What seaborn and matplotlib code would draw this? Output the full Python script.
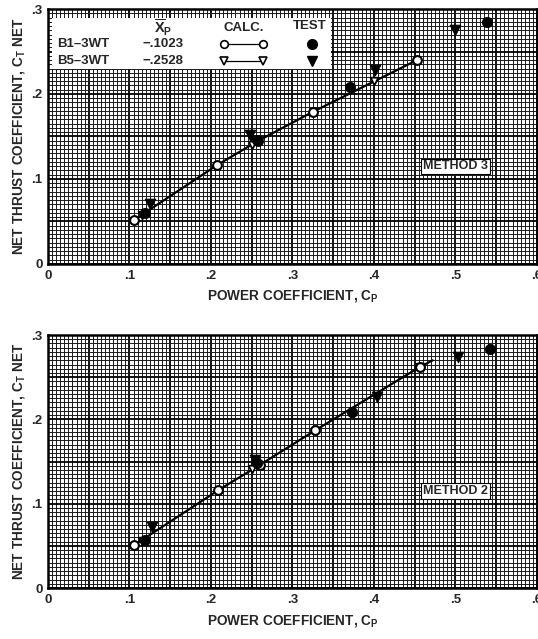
import numpy as np
import pandas as pd
import matplotlib
matplotlib.use("Agg")
import matplotlib.pyplot as plt
import seaborn as sns
from matplotlib.ticker import MultipleLocator, FuncFormatter
from matplotlib.patches import Rectangle
from matplotlib.lines import Line2D

# --- data ---
# METHOD 3 (top)
m3_calc_b1_cp = [0.106, 0.207, 0.258, 0.325, 0.453]
m3_calc_b1_ct = [0.052, 0.116, 0.145, 0.179, 0.240]
m3_calc_b5_cp = [0.115, 0.250, 0.400]
m3_calc_b5_ct = [0.058, 0.140, 0.215]
m3_test_b1_cp = [0.119, 0.257, 0.370, 0.539]
m3_test_b1_ct = [0.060, 0.146, 0.208, 0.285]
m3_test_b5_cp = [0.125, 0.248, 0.401, 0.499]
m3_test_b5_ct = [0.071, 0.152, 0.228, 0.275]

# METHOD 2 (bottom)
m2_calc_b1_cp = [0.106, 0.209, 0.260, 0.328, 0.456, 0.472]
m2_calc_b1_ct = [0.051, 0.116, 0.146, 0.187, 0.262, 0.270]
m2_calc_b5_cp = [0.115, 0.250, 0.456]
m2_calc_b5_ct = [0.056, 0.141, 0.262]
m2_test_b1_cp = [0.119, 0.256, 0.373, 0.542]
m2_test_b1_ct = [0.057, 0.148, 0.209, 0.283]
m2_test_b5_cp = [0.128, 0.254, 0.404, 0.503]
m2_test_b5_ct = [0.072, 0.152, 0.227, 0.274]

configs = ["B1-3WT", "B5-3WT"]
xp_values = ["\u2212.1023", "\u2212.2528"]

sns.set_style("white")
plt.rcParams["font.family"] = ["Liberation Sans", "DejaVu Sans"]
plt.rcParams["font.weight"] = "bold"
plt.rcParams["mathtext.fontset"] = "custom"
plt.rcParams["mathtext.rm"] = "Liberation Sans:bold"
plt.rcParams["mathtext.it"] = "Liberation Sans:bold"
plt.rcParams["mathtext.default"] = "rm"

fig = plt.figure(figsize=(5.38, 6.39), dpi=100)
ax_top = fig.add_axes([0.0892, 0.5869, 0.9089, 0.3990])
ax_bot = fig.add_axes([0.0892, 0.0798, 0.9089, 0.3959])


def tick_fmt(v, pos):
    if abs(v) < 1e-9:
        return "0"
    if abs(round(v * 10) - v * 10) > 1e-6:
        return ""
    return ("%.1f" % v).lstrip("0")


def style_axes(ax, label):
    ax.set_xlim(0, 0.6)
    ax.set_ylim(0, 0.3)
    for axis in (ax.xaxis, ax.yaxis):
        axis.set_major_locator(MultipleLocator(0.05))
        axis.set_minor_locator(MultipleLocator(0.005))
        axis.set_major_formatter(FuncFormatter(tick_fmt))
    ax.grid(which="minor", color="#1a1a1a", lw=0.7)
    ax.grid(which="major", color="black", lw=1.3)
    ax.set_axisbelow(True)
    ax.tick_params(which="both", length=0, labelsize=9.5, pad=4)
    for s in ax.spines.values():
        s.set_linewidth(1.8)
        s.set_color("black")
    ax.set_xlabel("POWER COEFFICIENT, C$_\\mathrm{P}$", fontsize=9.8,
                  fontweight="bold", labelpad=5)
    ax.set_ylabel("NET THRUST COEFFICIENT, C$_\\mathrm{T}$ NET", fontsize=9.8,
                  fontweight="bold", labelpad=3)
    ax.text(0.5, 0.115, label, fontsize=9, fontweight="bold", ha="center",
            va="center", zorder=6,
            bbox=dict(facecolor="white", edgecolor="black", lw=0.8, pad=1.2))


def draw_panel(ax, cb1x, cb1y, cb5x, cb5y, tb1x, tb1y, tb5x, tb5y):
    calc1 = pd.DataFrame({"cp": cb1x, "ct": cb1y})
    calc5 = pd.DataFrame({"cp": cb5x, "ct": cb5y})
    test1 = pd.DataFrame({"cp": tb1x, "ct": tb1y})
    test5 = pd.DataFrame({"cp": tb5x, "ct": tb5y})
    sns.lineplot(data=calc1, x="cp", y="ct", ax=ax, color="black", lw=1.6,
                 zorder=3)
    sns.scatterplot(data=calc5, x="cp", y="ct", ax=ax, marker="v", s=30,
                    facecolor="white", edgecolor="black", linewidth=1.3,
                    zorder=4)
    sns.scatterplot(data=calc1[calc1.index < 5], x="cp", y="ct", ax=ax,
                    marker="o", s=40, facecolor="white", edgecolor="black",
                    linewidth=1.5, zorder=4)
    sns.scatterplot(data=test1, x="cp", y="ct", ax=ax, marker="o", s=55,
                    color="black", edgecolor="black", zorder=5)
    sns.scatterplot(data=test5, x="cp", y="ct", ax=ax, marker="v", s=60,
                    color="black", edgecolor="black", zorder=5)


draw_panel(ax_top, m3_calc_b1_cp, m3_calc_b1_ct, m3_calc_b5_cp, m3_calc_b5_ct,
           m3_test_b1_cp, m3_test_b1_ct, m3_test_b5_cp, m3_test_b5_ct)
draw_panel(ax_bot, m2_calc_b1_cp, m2_calc_b1_ct, m2_calc_b5_cp, m2_calc_b5_ct,
           m2_test_b1_cp, m2_test_b1_ct, m2_test_b5_cp, m2_test_b5_ct)
style_axes(ax_top, "METHOD 3")
style_axes(ax_bot, "METHOD 2")

# table-style key in the top panel
tr = ax_top.transAxes
ax_top.add_patch(Rectangle((0.008, 0.765), 0.57, 0.20, transform=tr,
                           facecolor="white", edgecolor="none", zorder=6))
ax_top.text(0.235, 0.925, "$\\overline{\\mathrm{X}}_\\mathrm{P}$", transform=tr,
            fontsize=10.5, ha="center", va="center", zorder=7)
ax_top.text(0.40, 0.925, "CALC.", transform=tr, fontsize=9.5, ha="center",
            va="center", zorder=7)
ax_top.text(0.535, 0.935, "TEST", transform=tr, fontsize=9.5, ha="center",
            va="center", zorder=7)
row_y = [0.862, 0.795]
key_mk = ["o", "v"]
for cfg, xp, yy, mk in zip(configs, xp_values, row_y, key_mk):
    ax_top.text(0.018, yy, cfg.replace("-", "\u2013"), transform=tr,
                fontsize=9.5, ha="left", va="center", zorder=7)
    ax_top.text(0.235, yy, xp, transform=tr, fontsize=9.5, ha="center",
                va="center", zorder=7)
    ax_top.add_line(Line2D([0.36, 0.44], [yy, yy], transform=tr, color="black",
                           lw=0.9, marker=mk, markersize=5.5,
                           markerfacecolor="white", markeredgecolor="black",
                           markeredgewidth=1.2, zorder=7))
    ax_top.add_line(Line2D([0.54], [yy], transform=tr, color="black",
                           marker=mk, markersize=7, linestyle="none",
                           zorder=7))

fig.savefig("out.png", dpi=100)
